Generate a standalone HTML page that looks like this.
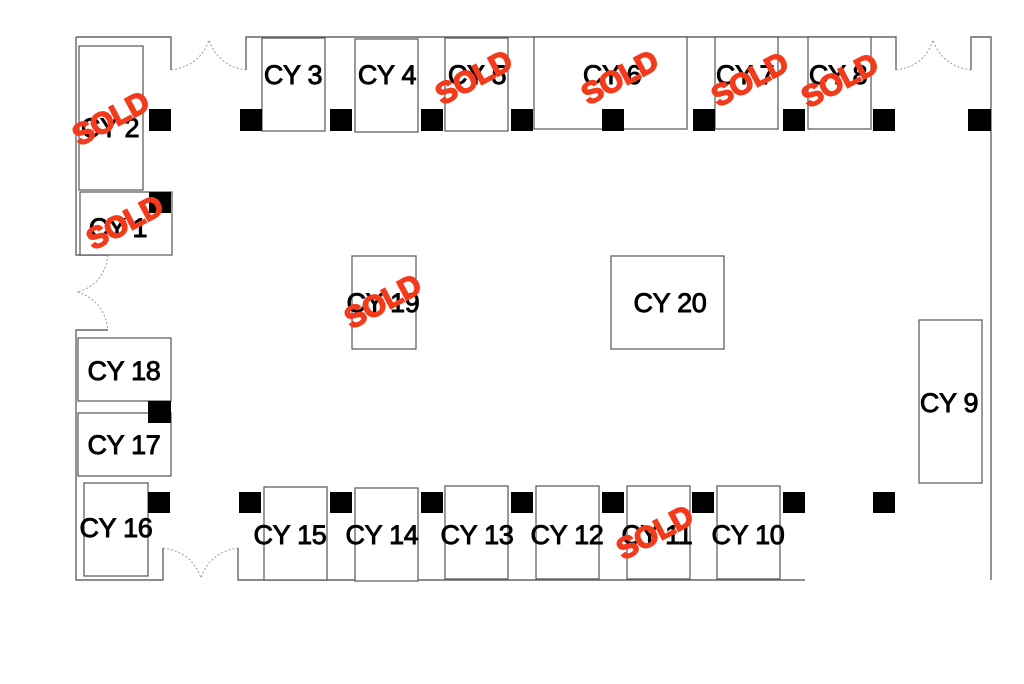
<!DOCTYPE html>
<html><head><meta charset="utf-8">
<style>
html,body{margin:0;padding:0;background:#fff;}
svg{display:block;}
.b{fill:#fff;stroke:#555;stroke-width:1.2;}
.w{stroke:#666;stroke-width:1.4;fill:none;}
.d{stroke:#999;stroke-width:1;fill:none;stroke-dasharray:2,2;}
.c{fill:#000;}
.t{font-family:"Liberation Sans",sans-serif;font-size:27px;fill:#000;stroke:#000;stroke-width:0.9;text-anchor:middle;dominant-baseline:central;letter-spacing:-0.3px;}
.s{font-family:"Liberation Sans",sans-serif;font-size:30px;font-weight:bold;fill:#f33b1c;stroke:#f33b1c;stroke-width:1.6;text-anchor:middle;dominant-baseline:central;letter-spacing:-0.5px;}
</style></head>
<body>
<svg width="1024" height="684" viewBox="0 0 1024 684" xmlns="http://www.w3.org/2000/svg">
<path class="w" d="M76 37 H171 V70"/>
<path class="w" d="M246 70 V37 H896 V70"/>
<path class="w" d="M971 70 V37 H991 V580"/>
<path class="w" d="M76 37 V255 H108"/>
<path class="w" d="M108 330 H76 V580 H163 V548"/>
<path class="w" d="M238 548 V580 H805"/>
<path class="d" d="M171 70 Q200 66 209 40 Q218 66 246 70"/>
<path class="d" d="M896 70 Q925 66 933 40 Q942 66 971 70"/>
<path class="d" d="M108 255 Q104 285 77 292 Q104 300 108 330"/>
<path class="d" d="M163 548 Q192 552 201 578 Q210 552 238 548"/>
<rect class="b" x="79" y="46" width="64" height="144"/>
<rect class="b" x="80" y="192" width="92" height="63"/>
<rect class="b" x="262" y="38" width="63" height="93"/>
<rect class="b" x="355" y="39" width="63" height="93"/>
<rect class="b" x="445" y="38" width="63" height="93"/>
<rect class="b" x="534" y="37" width="153" height="92"/>
<rect class="b" x="715" y="37" width="63" height="92"/>
<rect class="b" x="808" y="37" width="63" height="92"/>
<rect class="b" x="352" y="256" width="64" height="93"/>
<rect class="b" x="611" y="256" width="113" height="93"/>
<rect class="b" x="919" y="320" width="63" height="163"/>
<rect class="b" x="78" y="338" width="93" height="63"/>
<rect class="b" x="78" y="413" width="93" height="63"/>
<rect class="b" x="84" y="483" width="64" height="93"/>
<rect class="b" x="264" y="487" width="63" height="93"/>
<rect class="b" x="355" y="488" width="63" height="93"/>
<rect class="b" x="445" y="486" width="63" height="93"/>
<rect class="b" x="536" y="486" width="63" height="93"/>
<rect class="b" x="627" y="486" width="63" height="93"/>
<rect class="b" x="717" y="486" width="63" height="93"/>
<g class="c">
<rect x="149" y="109" width="22" height="22"/>
<rect x="240" y="109" width="22" height="22"/>
<rect x="330" y="109" width="22" height="22"/>
<rect x="421" y="109" width="22" height="22"/>
<rect x="511" y="109" width="22" height="22"/>
<rect x="602" y="109" width="22" height="22"/>
<rect x="693" y="109" width="22" height="22"/>
<rect x="783" y="109" width="22" height="22"/>
<rect x="873" y="109" width="22" height="22"/>
<rect x="968" y="109" width="23" height="22"/>
<rect x="149" y="192" width="22" height="21"/>
<rect x="148" y="401" width="23" height="22"/>
<rect x="148" y="492" width="22" height="21"/>
<rect x="239" y="492" width="22" height="21"/>
<rect x="330" y="492" width="22" height="21"/>
<rect x="421" y="492" width="22" height="21"/>
<rect x="511" y="492" width="22" height="21"/>
<rect x="602" y="492" width="22" height="21"/>
<rect x="692" y="492" width="22" height="21"/>
<rect x="783" y="492" width="22" height="21"/>
<rect x="873" y="492" width="22" height="21"/>
</g>
<text class="t" x="293" y="75">CY 3</text>
<text class="t" x="387" y="75">CY 4</text>
<text class="t" x="477" y="75">CY 5</text>
<text class="t" x="612" y="75">CY 6</text>
<text class="t" x="745" y="75">CY 7</text>
<text class="t" x="838" y="75">CY 8</text>
<text class="t" x="110" y="128">CY 2</text>
<text class="t" x="118" y="228">CY 1</text>
<text class="t" x="383" y="303">CY 19</text>
<text class="t" x="670" y="303">CY 20</text>
<text class="t" x="949" y="403">CY 9</text>
<text class="t" x="124" y="371">CY 18</text>
<text class="t" x="124" y="445">CY 17</text>
<text class="t" x="116" y="528">CY 16</text>
<text class="t" x="290" y="535">CY 15</text>
<text class="t" x="382" y="535">CY 14</text>
<text class="t" x="477" y="535">CY 13</text>
<text class="t" x="567" y="535">CY 12</text>
<text class="t" x="657" y="535">CY 11</text>
<text class="t" x="748" y="535">CY 10</text>
<text class="s" transform="translate(111,119) rotate(-28)">SOLD</text>
<text class="s" transform="translate(125,223) rotate(-28)">SOLD</text>
<text class="s" transform="translate(474,78) rotate(-28)">SOLD</text>
<text class="s" transform="translate(620,78) rotate(-28)">SOLD</text>
<text class="s" transform="translate(750,80) rotate(-28)">SOLD</text>
<text class="s" transform="translate(840,81) rotate(-28)">SOLD</text>
<text class="s" transform="translate(383,302) rotate(-28)">SOLD</text>
<text class="s" transform="translate(655,533) rotate(-28)">SOLD</text>
</svg>
</body></html>
